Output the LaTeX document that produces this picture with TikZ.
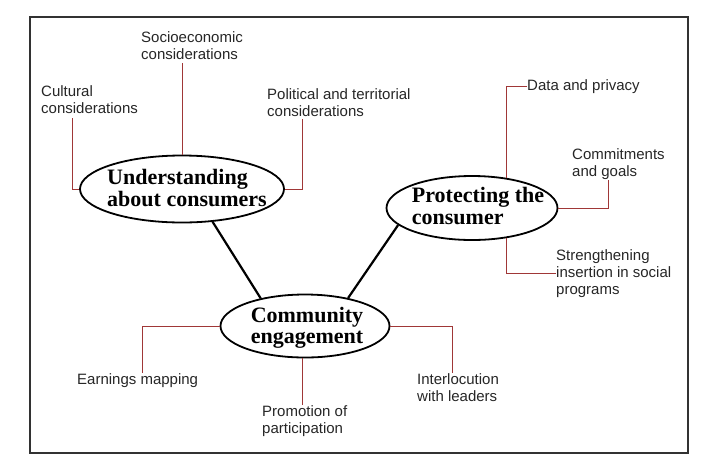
\documentclass[tikz,border=0pt]{standalone}
\usepackage{fontspec}
\setmainfont{Liberation Sans}
\newfontfamily\hubfont{Liberation Serif}
\usetikzlibrary{shapes.geometric,calc}
\definecolor{lred}{RGB}{160,55,55}
\definecolor{framegray}{RGB}{50,50,50}
\tikzset{
  hub/.style={draw, ellipse, line width=1.8pt, inner sep=0pt},
  hubtext/.style={font=\hubfont\bfseries\fontsize{22}{21.5}\selectfont, align=left, inner sep=0pt},
  lbl/.style={font=\fontsize{15}{17}\selectfont, align=left, inner sep=0pt, anchor=north west, text=black!85},
  rl/.style={draw=lred, line width=1pt},
  link/.style={line width=2.2pt},
  framebox/.style={draw=framegray, line width=1.3pt}
}
\begin{document}
\begin{tikzpicture}[x=1pt,y=-1pt]
\useasboundingbox (0,0) rectangle (725,464);
\draw[framebox] (30,17) rectangle (688,453);

% hubs
\node[hub, minimum width=204pt, minimum height=67pt] (und) at (182,189) {};
\node[hub, minimum width=171pt, minimum height=64pt] (pro) at (472,208) {};
\node[hub, minimum width=169pt, minimum height=63pt] (com) at (305,326) {};
\node[hubtext] (undt) at (187,188) {Understanding\\about consumers};
\node[hubtext] (prot) at (478,206) {Protecting the\\consumer};
\node[hubtext] (comt) at (307,328) {Community\\engagement};

% labels
\node[lbl] (cult) at (41,85) {Cultural\\considerations};
\node[lbl] (socio) at (141,31) {Socioeconomic\\considerations};
\node[lbl] (pol) at (267,88) {Political and territorial\\considerations};
\node[lbl] (data) at (527,79) {Data and privacy};
\node[lbl] (commit) at (572,148) {Commitments\\and goals};
\node[lbl] (strength) at (556,249) {Strengthening\\insertion in social\\programs};
\node[lbl] (earn) at (77,373) {Earnings mapping};
\node[lbl] (prom) at (262,405) {Promotion of\\participation};
\node[lbl] (inter) at (417,373) {Interlocution\\with leaders};

% black links
\draw[link] (und.-47) -- (com.148.5);
\draw[link] (pro.193) -- (com.33.7);

% red branches
\draw[rl] (und.west) -| ($(cult.south west)+(31,5)$);
\draw[rl] (und.north) -- ([yshift=-4pt]und.north |- socio.south);
\draw[rl] (und.east) -| ($(pol.south west)+(35,3)$);
\draw[rl] (data.west) -| (pro.41);
\draw[rl] (pro.east) -| ($(commit.south west)+(36,1)$);
\draw[rl] (pro.-41) |- (strength.west);
\draw[rl] (com.west) -| ($(earn.north west)+(65,0)$);
\draw[rl] ([xshift=-3pt]com.south) -- ([xshift=-3pt]com.south |- prom.north);
\draw[rl] (com.east) -| ($(inter.north west)+(35,0)$);
\end{tikzpicture}
\end{document}
